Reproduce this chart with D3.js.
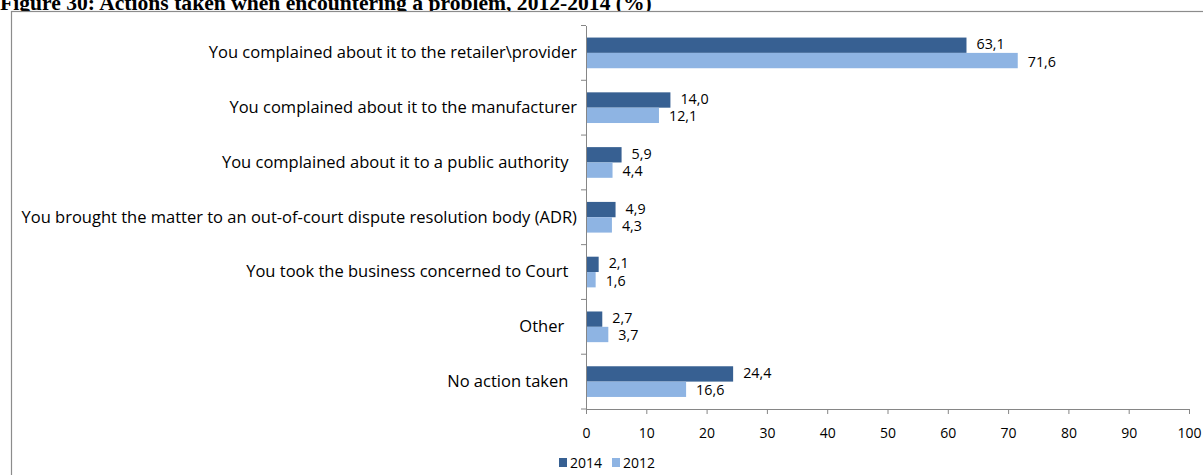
<!DOCTYPE html>
<html>
<head>
<meta charset="utf-8">
<script src="https://cdn.jsdelivr.net/npm/d3@7"></script>
<style>
  html, body { margin: 0; padding: 0; background: #fff; overflow: hidden; }
  text { white-space: pre; }
</style>
</head>
<body>
<svg id="chart" width="1203" height="475"></svg>
<script>
// Actions taken when encountering a problem (% of respondents)
const categories = [
  "You complained about it to the retailer\\provider",
  "You complained about it to the manufacturer",
  "You complained about it to a public authority  ",
  "You brought the matter to an out-of-court dispute resolution body (ADR)",
  "You took the business concerned to Court  ",
  "Other   ",
  "No action taken  "
];
const values2014 = [63.1, 14.0, 5.9, 4.9, 2.1, 2.7, 24.4];
const values2012 = [71.6, 12.1, 4.4, 4.3, 1.6, 3.7, 16.6];
const seriesNames = ["2014", "2012"];
const xTicks = [0, 10, 20, 30, 40, 50, 60, 70, 80, 90, 100];

const colors = { "2014": "#376092", "2012": "#8EB4E3" };
const labelFont = "'Open Sans', 'Noto Sans', sans-serif";
const catSize = 16.5;
const numSize = 14.3;
const tickSize = 14;

const svg = d3.select("#chart");

// title (partly cut by the page edge)
svg.append("text")
  .attr("x", 0).attr("y", 10)
  .attr("font-family", "'Liberation Serif', 'Times New Roman', serif")
  .attr("font-weight", "bold")
  .attr("font-size", 21.6)
  .attr("fill", "#000")
  .text("Figure 30: Actions taken when encountering a problem, 2012-2014 (%)");

// chart frame
svg.append("rect")
  .attr("x", 11.5).attr("y", 11.5)
  .attr("width", 1210).attr("height", 480)
  .attr("fill", "#fff")
  .attr("stroke", "#8c8c8c")
  .attr("stroke-width", 1.2);

const plot = { left: 586, right: 1189, top: 25.5, bottom: 409 };

const x = d3.scaleLinear().domain([0, 100]).range([plot.left, plot.right]);
const y = d3.scaleBand().domain(categories).range([plot.top, plot.bottom]).paddingInner(0.44).paddingOuter(0.22);
const ySub = d3.scaleBand().domain(seriesNames).range([0, y.bandwidth()]);

const rows = categories.map((c, i) => ({ cat: c, "2014": values2014[i], "2012": values2012[i] }));

const g = svg.append("g");

const groups = g.selectAll("g.row").data(rows).join("g")
  .attr("class", "row")
  .attr("transform", d => `translate(0,${y(d.cat)})`);

groups.selectAll("rect").data(d => seriesNames.map(s => ({ s, v: d[s] }))).join("rect")
  .attr("x", x(0))
  .attr("y", d => ySub(d.s))
  .attr("width", d => x(d.v) - x(0))
  .attr("height", ySub.bandwidth())
  .attr("fill", d => colors[d.s]);

const fmt = v => v.toFixed(1).replace(".", ",");
groups.selectAll("text.val").data(d => seriesNames.map(s => ({ s, v: d[s] }))).join("text")
  .attr("class", "val")
  .attr("x", d => x(d.v) + 10)
  .attr("y", d => ySub(d.s) + ySub.bandwidth() / 2 + (d.s === "2014" ? -1 : 1))
  .attr("dy", "0.35em")
  .attr("font-family", labelFont)
  .attr("font-size", numSize)
  .attr("fill", "#000")
  .text(d => fmt(d.v));

// category axis
const yAxis = d3.axisLeft(y).tickSize(0).tickPadding(9);
const yAxisG = svg.append("g").attr("transform", `translate(${plot.left},0)`).call(yAxis);
yAxisG.select(".domain").attr("stroke", "#868686");
yAxisG.selectAll("text")
  .attr("font-family", labelFont)
  .attr("font-size", catSize)
  .attr("fill", "#000");
// category boundary ticks
const bounds = d3.range(categories.length + 1).map(i => plot.top + i * y.step());
svg.append("g").selectAll("line").data(bounds).join("line")
  .attr("x1", plot.left - 5).attr("x2", plot.left)
  .attr("y1", d => d).attr("y2", d => d)
  .attr("stroke", "#868686");

// value axis
const xAxis = d3.axisBottom(x).tickValues(xTicks).tickSize(5).tickPadding(14).tickSizeOuter(0);
const xAxisG = svg.append("g").attr("transform", `translate(0,${plot.bottom})`).call(xAxis);
xAxisG.select(".domain").attr("stroke", "#868686");
xAxisG.selectAll(".tick line").attr("stroke", "#868686");
xAxisG.selectAll("text")
  .attr("font-family", labelFont)
  .attr("font-size", tickSize)
  .attr("fill", "#000");

// legend
const legend = svg.append("g").attr("transform", "translate(559,458)");
const items = legend.selectAll("g").data(seriesNames).join("g")
  .attr("transform", (d, i) => `translate(${i * 53},0)`);
items.append("rect")
  .attr("width", 8).attr("height", 9)
  .attr("fill", d => colors[d]);
items.append("text")
  .attr("x", 11).attr("y", 5).attr("dy", "0.35em")
  .attr("font-family", labelFont)
  .attr("font-size", tickSize)
  .attr("fill", "#000")
  .text(d => d);
</script>
</body>
</html>
